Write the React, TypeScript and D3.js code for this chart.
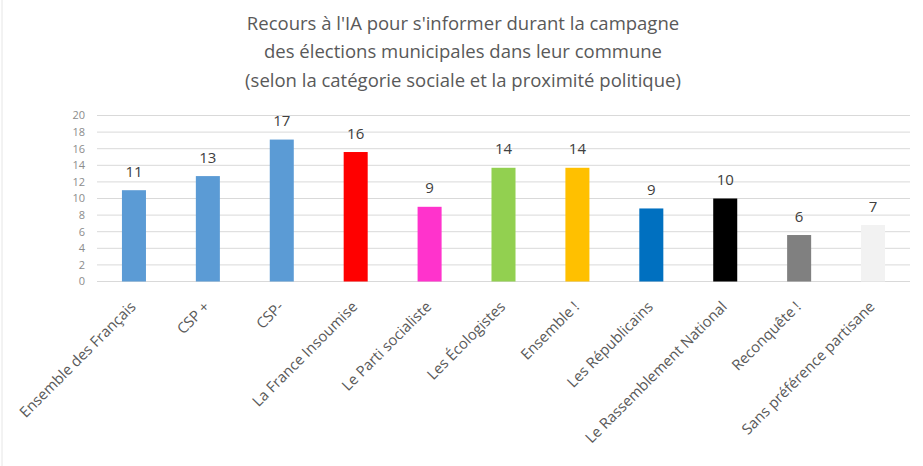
import React, { useEffect, useRef } from 'react';
import * as d3 from 'd3';

const titleLines = [
  "Recours à l'IA pour s'informer durant la campagne",
  'des élections municipales dans leur commune',
  '(selon la catégorie sociale et la proximité politique)',
];

const categories = [
  'Ensemble des Français',
  'CSP +',
  'CSP-',
  'La France Insoumise',
  'Le Parti socialiste',
  'Les Écologistes',
  'Ensemble !',
  'Les Républicains',
  'Le Rassemblement National',
  'Reconquête !',
  'Sans préférence partisane',
];

// bar heights as drawn, labels as printed
const values = [11, 12.7, 17.1, 15.6, 9, 13.7, 13.7, 8.8, 10, 5.6, 6.8];
const labels = ['11', '13', '17', '16', '9', '14', '14', '9', '10', '6', '7'];

const colors = [
  '#5B9BD5', '#5B9BD5', '#5B9BD5', '#FF0000', '#FF33CC', '#92D050',
  '#FFC000', '#0070C0', '#000000', '#808080', '#F2F2F2',
];

const yTicks = [0, 2, 4, 6, 8, 10, 12, 14, 16, 18, 20];

const W = 923;
const H = 466;
const font = "'Open Sans', sans-serif";

const App: React.FC = () => {
  const ref = useRef<SVGSVGElement>(null);

  useEffect(() => {
    const svg = d3.select(ref.current);
    svg.selectAll('*').remove();

    const x = d3.scaleBand().domain(categories).range([97, 910]).paddingInner(0.675).paddingOuter(0.3375);
    const y = d3.scaleLinear().domain([0, 20]).range([281.5, 115.5]);

    svg.append('rect').attr('width', W).attr('height', H).attr('fill', '#fff');
    svg.append('line').attr('x1', 2).attr('x2', 2).attr('y1', 0).attr('y2', H)
      .attr('stroke', '#e6e6e6').attr('stroke-width', 1);

    // title
    svg.append('g').selectAll('text').data(titleLines).join('text')
      .attr('x', 463).attr('y', (_, i) => 30 + i * 28.3)
      .attr('text-anchor', 'middle')
      .attr('font-family', font).attr('font-size', 18.5)
      .attr('fill', '#595959')
      .text((d) => d);

    // grid + y labels
    const yAxis = svg.append('g');
    yAxis.selectAll('line').data(yTicks).join('line')
      .attr('x1', 97).attr('x2', 910)
      .attr('y1', (d) => y(d)).attr('y2', (d) => y(d))
      .attr('stroke', '#d9d9d9').attr('stroke-width', 1);
    yAxis.selectAll('text').data(yTicks).join('text')
      .attr('x', 85).attr('y', (d) => y(d)).attr('dy', '0.35em')
      .attr('text-anchor', 'end')
      .attr('font-family', font).attr('font-size', 11)
      .attr('fill', '#8c8c8c')
      .text((d) => d);

    // bars
    svg.append('g').selectAll('rect').data(values).join('rect')
      .attr('x', (_, i) => x(categories[i]) as number)
      .attr('width', x.bandwidth())
      .attr('y', (d) => y(d))
      .attr('height', (d) => y(0) - y(d))
      .attr('fill', (_, i) => colors[i]);

    // value labels
    svg.append('g').selectAll('text').data(values).join('text')
      .attr('x', (_, i) => (x(categories[i]) as number) + x.bandwidth() / 2)
      .attr('y', (d) => y(d) - 13.5)
      .attr('text-anchor', 'middle')
      .attr('font-family', font).attr('font-size', 15)
      .attr('fill', '#404040')
      .text((_, i) => labels[i]);

    // category labels
    svg.append('g').selectAll('text').data(categories).join('text')
      .attr('transform', (d) => `translate(${(x(d) as number) + x.bandwidth() / 2 - 1},${304}) rotate(-45)`)
      .attr('text-anchor', 'end')
      .attr('dy', '0.35em')
      .attr('font-family', font).attr('font-size', 14.8)
      .attr('fill', '#595959')
      .text((d) => d);
  }, []);

  return <svg ref={ref} width={W} height={H} style={{ position: 'absolute', left: 0, top: 0 }} />;
};

export default App;
